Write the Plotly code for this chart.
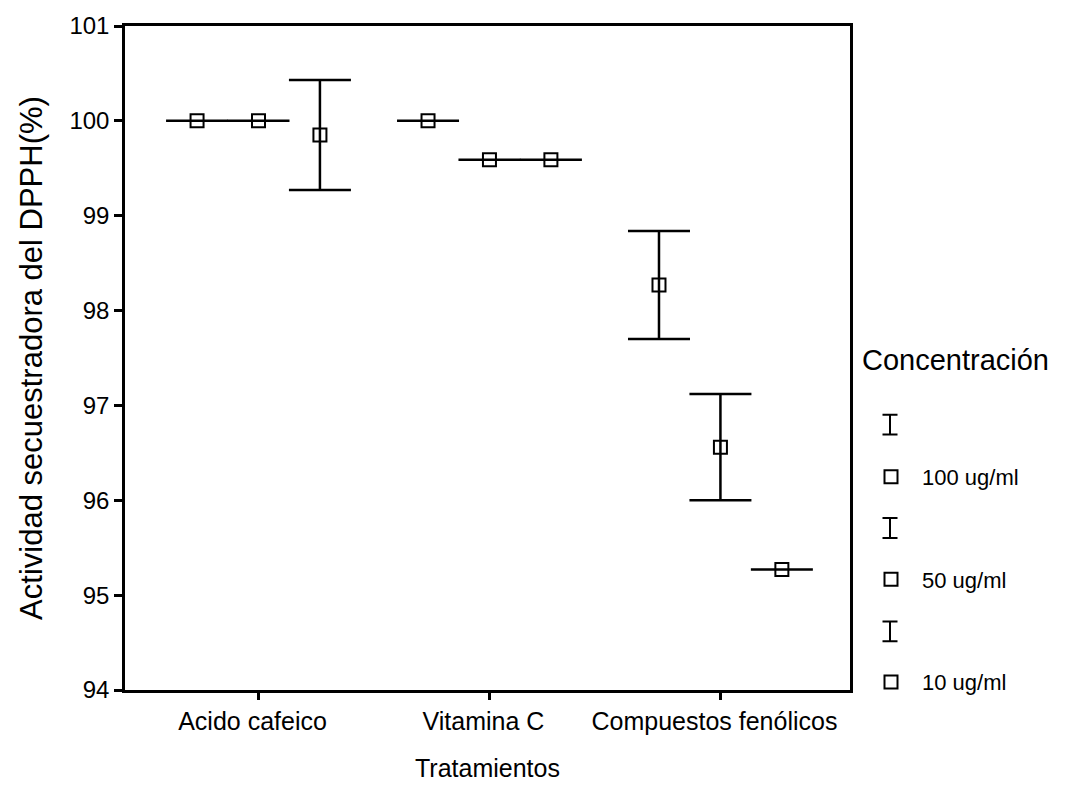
import plotly.graph_objects as go

# ---------------- data ----------------
categories = ["Acido cafeico", "Vitamina C", "Compuestos fenólicos"]
concentrations = ["100 ug/ml", "50 ug/ml", "10 ug/ml"]

mean_100 = [100.00, 100.00, 98.27]
mean_50 = [100.00, 99.59, 96.56]
mean_10 = [99.85, 99.59, 95.27]

err_100 = [0.00, 0.00, 0.57]
err_50 = [0.00, 0.00, 0.56]
err_10 = [0.58, 0.00, 0.00]

y_ticks = [94, 95, 96, 97, 98, 99, 100, 101]

means = [mean_100, mean_50, mean_10]
errs = [err_100, err_50, err_10]

# ---------------- layout constants ----------------
W, H = 1067, 807
ML, MR, MT, MB = 125, 217, 22, 117
PW, PH = W - ML - MR, H - MT - MB
OFFSETS = [-0.266, 0.0, 0.266]
FONT = "Liberation Sans, Arial, sans-serif"
INK = "#000000"
LW = 2.5

fig = go.Figure()
for j, name in enumerate(concentrations):
    xs = [i + OFFSETS[j] for i in range(len(categories))]
    fig.add_trace(go.Scatter(
        x=xs, y=means[j], mode="markers", name=name,
        legendgroup=name,
        marker=dict(symbol="square-open", size=13, color=INK,
                    line=dict(width=2, color=INK)),
        error_y=dict(type="data", array=errs[j], visible=True,
                     color=INK, thickness=LW, width=31),
        cliponaxis=False,
    ))

# legend position (pixels) -> paper
LEG_LEFT_PX = 860
LEG_TOP_PX = 325
leg_x = (LEG_LEFT_PX - ML) / PW
leg_y = 1 - (LEG_TOP_PX - MT) / PH

# error-bar glyphs ("I") shown above each legend entry
BEAM_X_PX = 890
BEAM_Y_PX = [423, 527, 631]
BEAM_HALF_H, BEAM_HALF_W = 10, 7.5
shapes = []
for by in BEAM_Y_PX:
    x0 = (BEAM_X_PX - BEAM_HALF_W - ML) / PW
    x1 = (BEAM_X_PX + BEAM_HALF_W - ML) / PW
    xc = (BEAM_X_PX - ML) / PW
    yt = 1 - (by - BEAM_HALF_H - MT) / PH
    yb = 1 - (by + BEAM_HALF_H - MT) / PH
    path = f"M {x0},{yt} L {x1},{yt} M {xc},{yt} L {xc},{yb} M {x0},{yb} L {x1},{yb}"
    shapes.append(dict(type="path", xref="paper", yref="paper", path=path,
                       line=dict(color=INK, width=2)))

fig.update_layout(
    width=W, height=H,
    margin=dict(l=ML, r=MR, t=MT, b=MB, pad=0),
    paper_bgcolor="white", plot_bgcolor="white",
    font=dict(family=FONT, color=INK, size=24),
    showlegend=True,
    legend=dict(
        x=leg_x, xanchor="left", y=leg_y, yanchor="top",
        font=dict(size=22, family=FONT, color=INK),
        title=dict(text="<span style='font-size:29px'>Concentración</span><br> <br> ",
                   font=dict(size=33, family=FONT, color=INK), side="top"),
        tracegroupgap=71,
        itemwidth=52,
        bgcolor="rgba(0,0,0,0)",
    ),
    shapes=shapes,
)

fig.update_xaxes(
    range=[-0.578, 2.561],
    tickmode="array", tickvals=list(range(len(categories))), ticktext=categories,
    ticks="outside", ticklen=7, tickwidth=LW, tickcolor=INK,
    showline=True, linewidth=LW, linecolor=INK, mirror=True,
    showgrid=False, zeroline=False,
    ticklabelshift=-6,
    tickfont=dict(size=25, family=FONT, color=INK),
    title=dict(text="Tratamientos", font=dict(size=25, family=FONT, color=INK), standoff=26),
)
fig.update_yaxes(
    range=[94, 101],
    tickmode="array", tickvals=y_ticks,
    ticks="outside", ticklen=8, tickwidth=LW, tickcolor=INK,
    showline=True, linewidth=LW, linecolor=INK, mirror=True,
    showgrid=False, zeroline=False,
    tickfont=dict(size=24, family=FONT, color=INK),
    title=dict(text="Actividad secuestradora del DPPH(%)", font=dict(size=31, family=FONT, color=INK), standoff=18),
)

fig.write_html("out.html")
